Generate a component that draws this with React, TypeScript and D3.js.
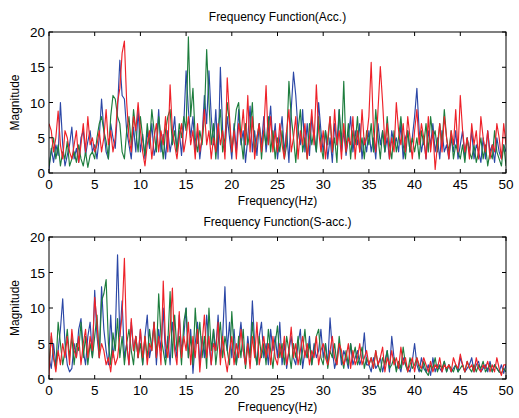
import React from 'react';
import * as d3 from 'd3';

// frequency samples every 0.25 Hz, 0..50 Hz
const accBlue = [
  0.5, 3.5, 1.5, 4, 2.5, 10, 4, 1, 2.5, 4, 6.5, 2, 3.5, 1.5, 5, 6, 2.5, 4.5, 6, 3,
  4, 2, 5, 10.5, 6, 3, 2, 7, 5, 3.5, 9, 16, 11, 10.5, 6, 4, 2, 6.5, 3, 9,
  3, 5.5, 2, 6, 3.5, 7, 2.5, 4, 9, 3, 5.5, 2, 6, 3, 5, 8, 3, 6, 2.5, 7,
  14.5, 9, 5, 8, 3, 6, 2, 5, 11, 7, 14.5, 8, 4, 9, 2, 15, 6, 3, 8, 5,
  2, 7, 3, 9, 4, 6, 1.5, 5, 9.5, 3, 6, 2.5, 7, 4, 8, 3, 6, 9.5, 4, 7,
  2, 5, 8, 3, 6, 1.5, 9, 14.3, 11, 6, 4, 9, 3, 7, 2.5, 8, 5, 3, 10, 6,
  3, 6, 2, 5, 1.5, 7, 4, 9, 3, 6, 2.5, 5, 8, 3, 6, 4, 7, 2, 5, 3,
  6, 3, 5, 2, 7, 4, 6, 3, 5, 2, 6, 4, 5, 3, 7, 2, 5, 6, 3, 5,
  8, 12, 6, 3, 5, 2, 6, 4, 7, 3, 5, 2, 6, 3, 4, 2, 5, 3, 6, 2,
  4, 6, 2, 5, 3, 6, 2, 4, 3, 1.5, 5, 2, 6, 3, 4, 1.5, 5, 3, 2, 4,
  3
];
const accGreen = [
  1, 3, 5, 2, 4, 1, 3, 2, 4.5, 1, 2, 3, 1.5, 4, 2, 1, 3, 0.8, 2.5, 3,
  2, 5, 7, 8, 6, 4.5, 2, 8, 11, 10.5, 8, 7, 3, 2, 6, 8, 4, 9, 6, 3,
  8, 5, 2.5, 7, 4, 9, 6, 3, 8, 5, 2, 6, 8, 9, 4, 6, 3, 7, 5, 8,
  6, 19.3, 8, 12, 5, 3, 6, 4, 8, 17.5, 10, 4, 7, 2, 6, 9, 3, 5, 10, 7,
  3, 6, 9, 10, 5, 2, 7, 4, 6, 10, 3, 5, 7, 2, 6, 4, 8, 3, 6, 2,
  5, 3, 6, 2, 4, 13, 8, 5, 1.5, 6, 9, 3, 5, 2, 7, 4, 6, 3, 8, 4,
  2, 6, 4, 8, 3, 5, 1.5, 9, 4, 13, 3, 7, 2, 6, 4, 8, 3, 5, 2, 6,
  4, 7, 3, 9, 5, 2, 6, 3, 8, 4, 2, 6, 3, 5, 8, 4, 2, 6, 3, 5,
  3, 5, 2, 6, 4, 7, 3, 8, 5, 6, 3, 7, 4, 9, 5, 3, 6, 2, 4, 3,
  2, 4, 1.5, 5, 3, 2, 4, 1.5, 3, 5, 2, 4, 1, 3, 2, 6, 3, 2, 1, 4,
  1
];
const accRed = [
  7, 6, 3, 5, 8.8, 4, 2, 6, 5, 3, 2, 4, 6, 1.5, 4, 7, 3, 8, 4, 5,
  3, 4, 6, 3, 5, 9, 4, 6, 3, 5, 10, 12, 17, 18.7, 10, 5, 3, 8, 6, 10,
  6, 3, 1, 4, 6, 2, 5, 7, 3, 6, 4, 8, 3, 12.5, 6, 4, 2, 5, 7, 3,
  5, 8, 4, 6, 2, 7, 3, 5, 9, 4, 6, 2, 5, 3, 7, 4, 6, 2, 13.5, 8,
  3, 6, 2, 7, 5, 9, 4, 11, 3, 8, 2, 5, 7, 3, 6, 12.4, 4, 8, 3, 6,
  3, 7, 4, 2, 6, 9, 3, 5, 8, 2, 6, 4, 7, 2, 5, 9, 4, 12.5, 6, 3,
  6, 2, 5, 8, 3, 9, 4, 6, 2, 7, 3, 5, 4, 8, 2, 6, 3, 9, 4, 5,
  8, 15.7, 6, 3, 9, 15.1, 10, 4, 7, 2, 5, 3, 10, 6, 4, 7, 3, 8, 5, 2,
  6, 9, 4, 7, 5, 2, 8, 3, 6, 0.5, 4, 7, 3, 8, 5, 2, 6, 4, 9, 3,
  11, 6, 3, 5, 2, 7, 4, 6, 2, 8, 5, 3, 6, 2, 4, 3, 7, 5, 2, 7,
  4
];

const sBlue = [
  3, 1.5, 5, 2, 4, 7, 11.3, 5, 2, 1, 1.5, 5, 3, 7, 8.5, 4, 2, 6, 8, 3,
  12.5, 6, 3, 13, 7, 4, 2, 9, 3, 6, 17.5, 6, 11, 3, 5, 2, 8, 4, 6, 3,
  7, 2, 6, 9, 3, 5, 8, 2, 7, 4, 10, 3, 6, 2, 8, 5, 3, 9, 4, 6,
  10, 3, 7, 0.8, 5, 8, 2, 6, 3, 9, 5, 2, 7, 4, 9, 3, 6, 13, 4, 8,
  3, 7, 2, 5, 8, 4, 2, 6, 3, 11, 5, 2, 6, 8, 3, 5, 2, 7, 4, 6,
  3, 8, 2, 5, 1.5, 4, 6, 3, 2, 5, 7, 1.5, 4, 3, 6, 2, 5, 3, 4, 7,
  3, 5, 2, 8.6, 4, 1.5, 3, 5, 2, 4, 3, 1.5, 5, 2, 3, 4, 2, 3, 6.5, 2,
  2, 1, 3, 1.5, 2, 3, 1, 2.5, 4, 1, 6, 3, 1.5, 2, 1, 3, 2, 1.5, 1, 2.5,
  5, 2, 1, 3, 1.5, 1, 2, 0.5, 3, 1, 2, 1.5, 1, 2.5, 1, 2, 1, 1.5, 2, 1,
  3, 2, 1, 1.5, 2, 3, 1, 2, 2.5, 1, 1.5, 2, 1, 2.5, 1, 2, 1.5, 1, 2, 0.8,
  2
];
const sGreen = [
  2, 6, 3, 1.5, 8, 5, 2, 4, 7, 3, 6, 2, 5, 4, 8, 3, 6, 2, 5, 3,
  6, 9, 3, 11, 12, 14, 5, 2, 6.5, 4, 8.5, 3, 6, 2, 5, 7, 4, 2, 6, 3,
  5, 2, 6, 3, 7, 4, 8, 3, 12, 6, 4, 2, 5, 12.3, 3, 9, 4, 6, 2, 8,
  10, 3, 6, 2, 10, 5, 8, 3, 6, 1.5, 10, 4, 7, 2, 5, 8, 3, 6, 4, 2,
  9.5, 4, 2, 6, 3, 7, 1.5, 5, 3, 8, 4, 2, 6, 3, 5, 2, 7, 4, 1.5, 5,
  7.5, 3, 5, 2, 6, 4, 1.5, 5, 3, 6, 2, 4, 7, 3, 5, 2, 4, 6, 7, 3,
  2, 5, 1.5, 4, 3, 5, 2, 6, 3, 1.5, 4, 2, 5, 3, 4.5, 2, 3, 4.5, 1.5, 3,
  2, 3, 1.5, 4, 2, 1, 3, 2, 4, 1.5, 2, 3, 1, 2.5, 1.5, 4.5, 2, 1, 3, 1.5,
  2, 3, 1.5, 1, 2.5, 1, 0.5, 2, 1.5, 3, 1, 2, 1.5, 2.5, 1, 2, 1.5, 1, 2, 1,
  1.5, 2, 1, 2.5, 1.5, 1, 2, 1, 2, 1.5, 2.5, 1, 1.5, 2, 1, 2, 1.5, 1, 0.8, 1.5,
  1
];
const sRed = [
  0.5, 6.5, 3, 1, 4, 2, 5, 3, 6, 2, 7, 4, 3, 6, 2, 5, 7, 3, 6, 4,
  11.5, 8, 3, 5, 4, 2, 3, 1, 4, 2, 3, 6, 9, 17, 5, 2, 8.5, 4, 6, 3,
  7, 3, 6, 2, 5, 4, 8, 3, 6, 2, 13.8, 5, 3, 7, 12.8, 4, 2, 9.5, 3, 6,
  4, 8, 2, 6, 3, 7, 1, 5, 9, 3, 6, 2, 5, 4, 8, 2, 6, 3, 1, 4,
  6, 2, 5, 3, 7, 4, 2, 5, 1.5, 6, 3, 8, 2, 4, 6, 3, 5, 2, 6, 3,
  2, 5, 3, 6, 2, 4, 7.3, 3, 5, 2, 4, 6, 3, 5, 2, 4, 3, 6, 2, 4,
  5, 3, 2, 4, 6, 3, 2, 5, 4, 2, 3, 5, 1.5, 4, 2, 3, 5, 2, 3, 4,
  2, 3, 1.5, 4, 2, 3, 4.5, 1, 3, 2, 4, 2, 3, 1.5, 4.5, 2, 3, 1, 2, 3,
  1, 3, 2, 1.5, 3, 2, 1, 2.5, 1, 2, 1.5, 3, 1, 2, 1.5, 2, 1, 3, 2, 1.5,
  3.5, 2, 1, 2.5, 1.5, 2, 1, 3, 1.5, 1, 2, 1.5, 2.5, 1, 2, 1, 3, 1.5, 0.5, 2,
  2
];

const xTicks = [0, 5, 10, 15, 20, 25, 30, 35, 40, 45, 50];
const yTicks = [0, 5, 10, 15, 20];
const colors = ['#2b47a6', '#1d7d3d', '#ee2229'];

const W = 519;
const H = 418;
const font = 'Liberation Sans, Arial, Helvetica, sans-serif';

type PanelProps = { top: number; bottom: number; title: string; series: number[][] };

function Panel({ top, bottom, title, series }: PanelProps) {
  const left = 49;
  const right = 506;
  const x = d3.scaleLinear().domain([0, 50]).range([left, right]);
  const y = d3.scaleLinear().domain([0, 20]).range([bottom, top]);
  const tick = 4;

  return (
    <g>
      <clipPath id={`clip-${top}`}>
        <rect x={left} y={top} width={right - left} height={bottom - top} />
      </clipPath>
      <g clipPath={`url(#clip-${top})`}>
        {series.map((s, k) => {
          const line = d3
            .line<number>()
            .x((_, i) => x((i * 50) / (s.length - 1)))
            .y((d) => y(d));
          return <path key={k} d={line(s) || ''} fill="none" stroke={colors[k]} strokeWidth={1.15} strokeLinejoin="round" />;
        })}
      </g>
      <rect x={left} y={top} width={right - left} height={bottom - top} fill="none" stroke="#000" strokeWidth={1} />
      {xTicks.map((t) => (
        <g key={'x' + t}>
          <line x1={x(t)} x2={x(t)} y1={bottom} y2={bottom - tick} stroke="#000" />
          <line x1={x(t)} x2={x(t)} y1={top} y2={top + tick} stroke="#000" />
          <text x={x(t)} y={bottom + 16} textAnchor="middle" fontSize={13.5} fontFamily={font}>
            {t}
          </text>
        </g>
      ))}
      {yTicks.map((t) => (
        <g key={'y' + t}>
          <line x1={left} x2={left + tick} y1={y(t)} y2={y(t)} stroke="#000" />
          <line x1={right} x2={right - tick} y1={y(t)} y2={y(t)} stroke="#000" />
          <text x={left - 4} y={y(t) + 5} textAnchor="end" fontSize={13.5} fontFamily={font}>
            {t}
          </text>
        </g>
      ))}
      <text x={(left + right) / 2} y={top - 11} textAnchor="middle" fontSize={12} fontFamily={font}>
        {title}
      </text>
      <text x={(left + right) / 2} y={bottom + 32} textAnchor="middle" fontSize={12} fontFamily={font}>
        Frequency(Hz)
      </text>
      <text
        transform={`translate(19,${(top + bottom) / 2}) rotate(-90)`}
        textAnchor="middle"
        fontSize={12}
        fontFamily={font}
      >
        Magnitude
      </text>
    </g>
  );
}

export default function App() {
  return (
    <svg width={W} height={H} style={{ position: 'absolute', left: 0, top: 0, background: '#fff' }}>
      <Panel top={32} bottom={173} title="Frequency Function(Acc.)" series={[accBlue, accGreen, accRed]} />
      <Panel top={237} bottom={379} title="Frequency Function(S-acc.)" series={[sBlue, sGreen, sRed]} />
    </svg>
  );
}
